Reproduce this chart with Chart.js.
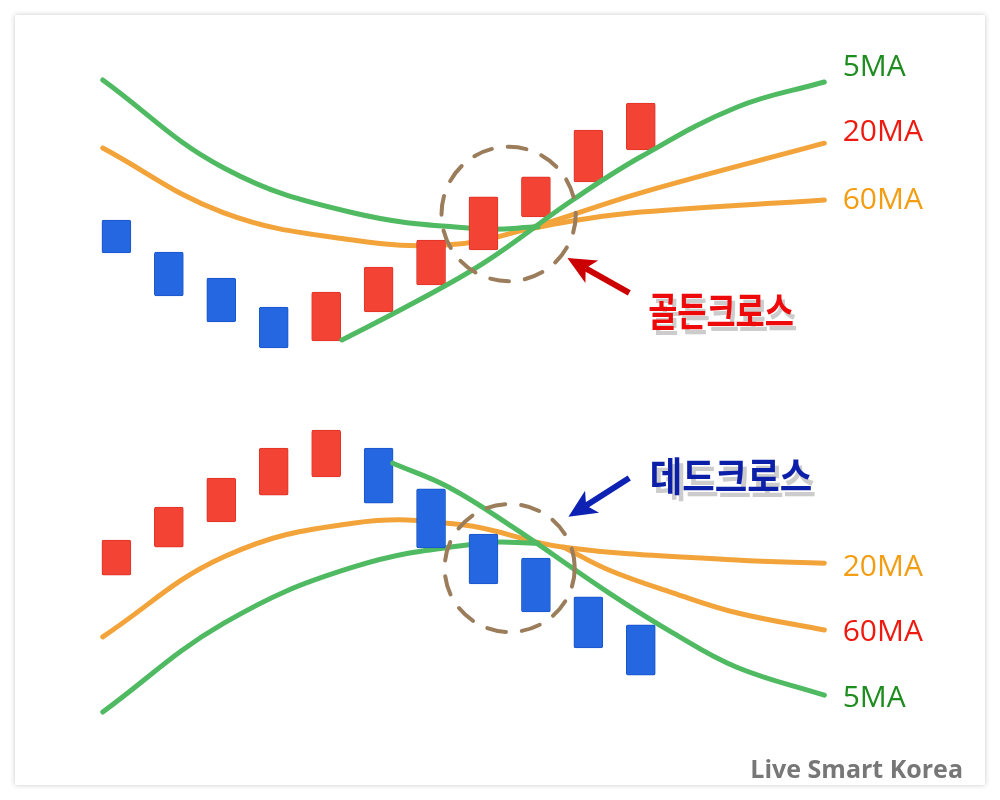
<!DOCTYPE html>
<html>
<head>
<meta charset="utf-8">
<script src="https://cdn.jsdelivr.net/npm/chart.js@4.4.1/dist/chart.umd.min.js"></script>
<style>
body { margin: 0; background: #fff; width: 1000px; height: 800px; position: relative; overflow: hidden; }
#card { position: absolute; left: 15px; top: 15px; width: 970px; height: 770px; background: #fff; box-shadow: 0 0 5px rgba(0,0,0,0.22); }
.wrap { position: absolute; left: 0; width: 1000px; height: 400px; }
#brand { position: absolute; right: 37px; top: 751px; font: bold 25px "Open Sans", sans-serif; color: #777; white-space: nowrap; }
</style>
</head>
<body>
<div id="card"></div>
<div class="wrap" style="top:0"><canvas id="golden" width="1000" height="400"></canvas></div>
<div class="wrap" style="top:400px"><canvas id="dead" width="1000" height="400"></canvas></div>
<div id="brand">Live Smart Korea</div>
<script>
// candle positions (trading days)
const days = [0, 1, 2, 3, 4, 5, 6, 7, 8, 9, 10];

// golden cross candles
const goldenOpen  = [45, 37, 30.5, 23.2, 14.8, 22, 28.8, 37.5, 45.8, 54.5, 62.5];
const goldenClose = [36.8, 26, 19.5, 13, 27, 33.2, 40, 50.8, 55.8, 67.5, 74.2];

// golden cross moving averages
const gMA5aX = [-0.26, 2.05, 4.51, 6.95, 8.04];
const gMA5aY = [80, 58, 46.8, 42.8, 43.3];
const gMA5bX = [4.3, 5.6, 7, 8.7, 10, 11.83, 13.5];
const gMA5bY = [15, 23.8, 34.2, 50, 60.8, 73.2, 79.5];
const gMA20X = [-0.26, 2.05, 4.51, 6.34, 7.75, 10, 13.5];
const gMA20Y = [63, 46.8, 40, 38.8, 42.5, 51.8, 64.2];
const gMA60X = [7.75, 8.8, 10, 13.5];
const gMA60Y = [42.5, 45, 47, 50];

// dead cross candles
const deadOpen  = [56.2, 63.2, 69.5, 76.2, 80.8, 88, 77.8, 66.5, 60.5, 50.8, 43.8];
const deadClose = [65, 73.2, 80.5, 88, 92.5, 74.2, 63, 54, 47, 38, 31.2];

// dead cross moving averages
const dMA5aX = [-0.26, 2.05, 4.51, 6.95, 8.04];
const dMA5aY = [22, 44.2, 58.2, 64.2, 64.2];
const dMA5bX = [5.27, 6.34, 7.56, 9.39, 10.61, 11.83, 13.5];
const dMA5bY = [84.2, 78.2, 68.2, 51.8, 41.8, 33.2, 26.2];
const dMA20X = [-0.26, 2.05, 4.51, 6.59, 8.53, 11.83, 13.5];
const dMA20Y = [40.8, 60.8, 69.2, 68.8, 63.2, 60, 59.2];
const dMA60X = [8.53, 9.39, 10.61, 11.83, 13.5];
const dMA60Y = [63.2, 57.5, 51.8, 46.8, 42.5];

// line labels
const goldenLabels = ['5MA', '20MA', '60MA'];
const goldenLabelY = [83.2, 66.8, 50];
const deadLabels = ['20MA', '60MA', '5MA'];
const deadLabelY = [58.2, 41.8, 25.5];

const UP = '#f34335', UP_EDGE = '#de3426';
const DOWN = '#2467e0', DOWN_EDGE = '#1a55c8';
const GREEN = '#4fba62', ORANGE = '#f2a43b';
const LAB_GREEN = '#1f8c1f', LAB_RED = '#ee1a10', LAB_ORANGE = '#f29d12';

function zip(xs, ys) { return xs.map((x, i) => ({ x: x, y: ys[i] })); }

function candles(open, close) {
    return {
        type: 'bar',
        data: days.map((d, i) => ({ x: d, y: [open[i], close[i]] })),
        backgroundColor: days.map((d, i) => close[i] >= open[i] ? UP : DOWN),
        borderColor: days.map((d, i) => close[i] >= open[i] ? UP_EDGE : DOWN_EDGE),
        borderWidth: 1,
        borderRadius: 2,
        borderSkipped: false,
        barThickness: 29,
        order: 2
    };
}

function maLine(xs, ys, color, order) {
    return {
        type: 'line',
        data: zip(xs, ys),
        borderColor: color,
        borderWidth: 5,
        borderCapStyle: 'round',
        pointRadius: 0,
        tension: 0.4,
        order: order
    };
}

function drawArrow(ctx, x1, y1, x2, y2, color) {
    const dx = x2 - x1, dy = y2 - y1;
    const len = Math.hypot(dx, dy);
    const ux = dx / len, uy = dy / len;
    const nx = -uy, ny = ux;
    const L = 28, W = 13, notch = 7;
    ctx.save();
    ctx.strokeStyle = color;
    ctx.fillStyle = color;
    ctx.lineWidth = 6;
    ctx.beginPath();
    ctx.moveTo(x1, y1);
    ctx.lineTo(x2 - ux * (L - notch), y2 - uy * (L - notch));
    ctx.stroke();
    ctx.beginPath();
    ctx.moveTo(x2, y2);
    ctx.lineTo(x2 - ux * L + nx * W, y2 - uy * L + ny * W);
    ctx.lineTo(x2 - ux * (L - notch), y2 - uy * (L - notch));
    ctx.lineTo(x2 - ux * L - nx * W, y2 - uy * L - ny * W);
    ctx.closePath();
    ctx.fill();
    ctx.restore();
}

const notes = {
    id: 'notes',
    afterDatasetsDraw(chart, args, opts) {
        const ctx = chart.ctx;
        const xs = chart.scales.x, ys = chart.scales.y;
        // dashed circle
        const c = opts.circle;
        const cx = xs.getPixelForValue(c.x), cy = ys.getPixelForValue(c.y);
        const rx = Math.abs(xs.getPixelForValue(c.x + c.rx) - cx);
        const ry = Math.abs(ys.getPixelForValue(c.y + c.ry) - cy);
        ctx.save();
        ctx.strokeStyle = '#9b7d5b';
        ctx.lineWidth = 4;
        ctx.lineCap = 'round';
        ctx.setLineDash([19, 16]);
        ctx.beginPath();
        ctx.ellipse(cx, cy, rx, ry, 0, 0, Math.PI * 2);
        ctx.stroke();
        ctx.restore();

        // arrow
        const a = opts.arrow;
        drawArrow(ctx, xs.getPixelForValue(a.from[0]), ys.getPixelForValue(a.from[1]),
            xs.getPixelForValue(a.to[0]), ys.getPixelForValue(a.to[1]), a.color);

        // title text
        const t = opts.title;
        const tx = xs.getPixelForValue(t.x), ty = ys.getPixelForValue(t.y);
        ctx.save();
        ctx.translate(tx, ty);
        ctx.scale(t.sx, 1.1);
        ctx.font = 'bold 36px "Noto Sans CJK KR"';
        ctx.textAlign = 'center';
        ctx.textBaseline = 'middle';
        ctx.fillStyle = '#cccccc';
        ctx.fillText(t.text, 4, 5);
        ctx.fillStyle = t.color;
        ctx.fillText(t.text, 0, 0);
        ctx.restore();

        // line labels
        ctx.save();
        ctx.font = '30px "Open Sans"';
        ctx.textAlign = 'left';
        ctx.textBaseline = 'middle';
        opts.labels.forEach((lab, i) => {
            ctx.fillStyle = opts.labelColors[i];
            ctx.fillText(lab, xs.getPixelForValue(opts.labelX), ys.getPixelForValue(opts.labelY[i]));
        });
        ctx.restore();
    }
};

function makeChart(id, datasets, noteOpts) {
    return new Chart(document.getElementById(id), {
        type: 'bar',
        data: { datasets: datasets },
        options: {
            responsive: false,
            animation: false,
            layout: { padding: 0 },
            datasets: { bar: { grouped: false } },
            scales: {
                x: { type: 'linear', min: -2.22, max: 16.85, offset: false, display: false },
                y: { type: 'linear', min: 0, max: 100, display: false }
            },
            plugins: {
                legend: { display: false },
                tooltip: { enabled: false },
                notes: noteOpts
            }
        },
        plugins: [notes]
    });
}

makeChart('golden', [
    maLine(gMA20X, gMA20Y, ORANGE, 4),
    maLine(gMA60X, gMA60Y, ORANGE, 4),
    maLine(gMA5aX, gMA5aY, GREEN, 3),
    candles(goldenOpen, goldenClose),
    maLine(gMA5bX, gMA5bY, GREEN, 1)
], {
    circle: { x: 7.48, y: 46.5, rx: 1.28, ry: 16.8 },
    arrow: { from: [9.78, 26.8], to: [8.6, 35.5], color: '#cc0000' },
    title: { text: '골든크로스', x: 11.53, y: 22.3, sx: 0.88, color: '#ee0a0a' },
    labels: goldenLabels,
    labelY: goldenLabelY,
    labelColors: [LAB_GREEN, LAB_RED, LAB_ORANGE],
    labelX: 13.85
});

makeChart('dead', [
    maLine(dMA20X, dMA20Y, ORANGE, 4),
    maLine(dMA60X, dMA60Y, ORANGE, 4),
    maLine(dMA5aX, dMA5aY, GREEN, 3),
    candles(deadOpen, deadClose),
    maLine(dMA5bX, dMA5bY, GREEN, 1)
], {
    circle: { x: 7.5, y: 58, rx: 1.24, ry: 16 },
    arrow: { from: [9.78, 80.5], to: [8.62, 70.8], color: '#0d22b3' },
    title: { text: '데드크로스', x: 11.72, y: 81, sx: 0.98, color: '#0c1fa8' },
    labels: deadLabels,
    labelY: deadLabelY,
    labelColors: [LAB_ORANGE, LAB_RED, LAB_GREEN],
    labelX: 13.85
});
</script>
</body>
</html>
